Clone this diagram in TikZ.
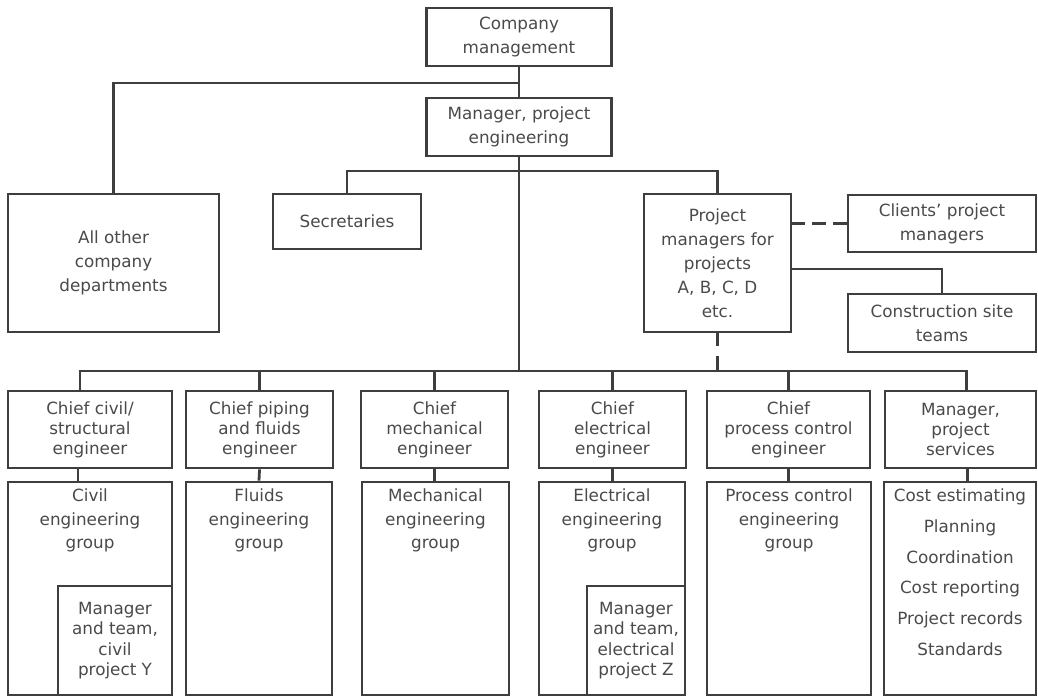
\documentclass[tikz,border=0pt]{standalone}
\usepackage{fontspec}
\setmainfont{DejaVu Sans}
\begin{document}
\begin{tikzpicture}[x=1pt,y=-1pt,
  box/.style={draw=lc, line width=2.8pt, rectangle, inner sep=0pt, align=center,
    text=tc, font=\fontsize{16.8}{24}\selectfont},
  chiefbox/.style={box, font=\fontsize{16.8}{20}\selectfont},
  subbox/.style={box, fill=white, font=\fontsize{16.8}{20.5}\selectfont},
  grouptext/.style={anchor=north, inner sep=0pt, align=center, text=tc,
    font=\fontsize{16.8}{23.5}\selectfont},
  listtext/.style={anchor=north, inner sep=0pt, align=center, text=tc,
    font=\fontsize{16.8}{30.8}\selectfont},
  conn/.style={draw=lc, line width=2.8pt},
  dashconn/.style={conn, dash pattern=on 14pt off 7pt}
]
\definecolor{lc}{HTML}{3E3E3E}
\definecolor{tc}{HTML}{4A4A4A}
\useasboundingbox (0,0) rectangle (1038,697);

% top level
\node[box, minimum width=185, minimum height=58] (cm) at (519,37) {Company\\management};
\node[box, minimum width=185, minimum height=58] (mpe) at (519,127) {Manager, project\\engineering};
\node[box, minimum width=211, minimum height=138] (oth) at (113.5,263) {All other\\company\\departments};
\node[box, minimum width=148, minimum height=55] (sec) at (347,221.5) {Secretaries};
\node[box, minimum width=147, minimum height=138] (pm) at (717.5,263) {Project\\managers for\\projects\\A, B, C, D\\etc.};
\node[box, minimum width=188, minimum height=57] (cli) at (942,223.5) {Clients’ project\\managers};
\node[box, minimum width=188, minimum height=58] (cst) at (942,323) {Construction site\\teams};

% chiefs
\node[chiefbox, minimum width=164, minimum height=77] (c1) at (90,429.5) {Chief civil/\\structural\\engineer};
\node[chiefbox, minimum width=147, minimum height=77] (c2) at (259.5,429.5) {Chief piping\\and fluids\\engineer};
\node[chiefbox, minimum width=147, minimum height=77] (c3) at (434.5,429.5) {Chief\\mechanical\\engineer};
\node[chiefbox, minimum width=147, minimum height=77] (c4) at (612.5,429.5) {Chief\\electrical\\engineer};
\node[chiefbox, minimum width=163, minimum height=77] (c5) at (788.5,429.5) {Chief\\process control\\engineer};
\node[chiefbox, minimum width=151, minimum height=77] (c6) at (960.5,429.5) {Manager,\\project\\services};

% groups
\node[box, minimum width=164, minimum height=213] (g1) at (90,588.5) {};
\node[box, minimum width=146, minimum height=213] (g2) at (259,588.5) {};
\node[box, minimum width=147, minimum height=213] (g3) at (435.5,588.5) {};
\node[box, minimum width=146, minimum height=213] (g4) at (612,588.5) {};
\node[box, minimum width=164, minimum height=213] (g5) at (789,588.5) {};
\node[box, minimum width=152, minimum height=213] (g6) at (960,588.5) {};

\node[grouptext] (g1t) at ([yshift=-8pt]g1.north) {Civil\\engineering\\group};
\node[grouptext] (g2t) at ([yshift=-8pt]g2.north) {Fluids\\engineering\\group};
\node[grouptext] (g3t) at ([yshift=-8pt]g3.north) {Mechanical\\engineering\\group};
\node[grouptext] (g4t) at ([yshift=-8pt]g4.north) {Electrical\\engineering\\group};
\node[grouptext] (g5t) at ([yshift=-8pt]g5.north) {Process control\\engineering\\group};
\node[listtext] (g6t) at ([yshift=-8pt]g6.north) {Cost estimating\\Planning\\Coordination\\Cost reporting\\Project records\\Standards};

\node[subbox, minimum width=114, minimum height=109] (sy) at (115,640.5) {Manager\\and team,\\civil\\project Y};
\node[subbox, minimum width=98, minimum height=109] (sz) at (636,640.5) {Manager\\and team,\\electrical\\project Z};

% connectors
\coordinate (j1) at (519,83);
\coordinate (j2) at (519,171);
\coordinate (bus) at (519,371);
\draw[conn] (cm.south) -- (mpe.north);
\draw[conn] (oth.north) |- (j1);
\draw[conn] (mpe.south) -- (bus);
\draw[conn] (sec.north) |- (j2) -| (pm.north);
\draw[dashconn] (cli.west) -- (cli.west -| pm.east);
\draw[conn] ([yshift=-6pt]pm.east) -| (cst.north);
\draw[conn, dash pattern=on 13pt off 10pt on 40pt off 1pt] (pm.south) -- (pm.south |- bus);
\draw[conn] ([xshift=-10pt]c1.north) |- (bus) -| ([xshift=6pt]c6.north);
\draw[conn] (c2.north) -- (c2.north |- bus);
\draw[conn] (c3.north) -- (c3.north |- bus);
\draw[conn] (c4.north) -- (c4.north |- bus);
\draw[conn] (c5.north) -- (c5.north |- bus);
\draw[conn] ([xshift=-12pt]c1.south) -- ([xshift=-12pt]c1.south |- g1.north);
\draw[conn] (c2.south) -- (g2.north);
\draw[conn] (c3.south) -- (c3.south |- g3.north);
\draw[conn] (c4.south) -- (c4.south |- g4.north);
\draw[conn] (c5.south) -- (c5.south |- g5.north);
\draw[conn] ([xshift=7pt]c6.south) -- ([xshift=7pt]c6.south |- g6.north);
\end{tikzpicture}
\end{document}
